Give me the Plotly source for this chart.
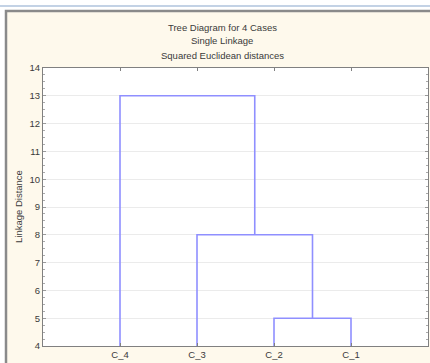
import plotly.graph_objects as go

# ---- data ----
cases = ["C_4", "C_3", "C_2", "C_1"]
merge_pairs = [("C_2", "C_1"), ("C_3", "M1"), ("C_4", "M2")]
merge_names = ["M1", "M2", "M3"]
merge_heights = [5, 8, 13]
y_ticks = [4, 5, 6, 7, 8, 9, 10, 11, 12, 13, 14]
title_lines = ["Tree Diagram for 4 Cases", "Single Linkage", "Squared Euclidean distances"]

W, H = 430, 363
L, R, T, B = 43, 2, 68, 17
PW, PH = W - L - R, H - T - B

def px_x(p):
    return (p - L) / PW

def px_y(p):
    return (H - B - p) / PH

# node positions
nodes = {c: (i + 1, 0) for i, c in enumerate(cases)}
xs, ys = [], []
for (a, b), name, h in zip(merge_pairs, merge_names, merge_heights):
    xa, ha = nodes[a]
    xb, hb = nodes[b]
    xs += [xa, xa, xb, xb, None]
    ys += [ha, h, h, hb, None]
    nodes[name] = ((xa + xb) / 2, h)

line_col = "#8F8FFF"
fig = go.Figure()
fig.add_trace(go.Scatter(x=xs, y=ys, mode="lines",
                         line=dict(color=line_col, width=1.6),
                         hoverinfo="skip", showlegend=False))

font = "Liberation Sans, Arial, sans-serif"
txt_col = "#3a3a3a"

shapes = [
    # thin blue line at top
    dict(type="line", xref="paper", yref="paper", x0=px_x(0), x1=px_x(W + 2),
         y0=px_y(6), y1=px_y(6), line=dict(color="#AFC3DC", width=1.5), layer="below"),
    # beige panel
    dict(type="rect", xref="paper", yref="paper", x0=px_x(6), x1=px_x(W + 3),
         y0=px_y(H + 3), y1=px_y(11), fillcolor="#FEF9EC",
         line=dict(color="#8A8A8A", width=2.5), layer="below"),
    # white plot area
    dict(type="rect", xref="paper", yref="paper", x0=0, x1=1, y0=0, y1=1,
         fillcolor="white", line=dict(width=0), layer="below"),
]

annotations = []
for i, t in enumerate(title_lines):
    annotations.append(dict(text=t, xref="paper", yref="paper", x=px_x(222),
                            y=px_y(27 + 14 * i), xanchor="center", yanchor="middle",
                            showarrow=False, font=dict(family=font, size=9.5, color=txt_col)))
annotations.append(dict(text="Linkage Distance", xref="paper", yref="paper",
                        x=px_x(18), y=0.5, textangle=-90, xanchor="center",
                        yanchor="middle", showarrow=False,
                        font=dict(family=font, size=9.5, color=txt_col)))

fig.update_layout(
    width=W, height=H, autosize=False,
    margin=dict(l=L, r=R, t=T, b=B),
    paper_bgcolor="white", plot_bgcolor="white",
    shapes=shapes, annotations=annotations,
    xaxis=dict(range=[0, 5], tickvals=[1, 2, 3, 4], ticktext=cases,
               showgrid=False, zeroline=False, showline=True, linecolor="#808080",
               linewidth=1, mirror="ticks", ticks="inside", ticklen=3,
               tickcolor="#808080", tickfont=dict(family=font, size=9.5, color=txt_col),
               fixedrange=True),
    yaxis=dict(range=[4, 14], tickvals=y_ticks, showgrid=True, gridcolor="#EBEBEB",
               gridwidth=1, zeroline=False, showline=True, linecolor="#808080",
               linewidth=1, mirror="ticks", ticks="inside", ticklen=3,
               tickcolor="#999999",
               minor=dict(dtick=0.25, ticks="inside", ticklen=2, tickcolor="#AAAAAA", showgrid=False),
               tickfont=dict(family=font, size=9.5, color=txt_col), fixedrange=True),
)

fig.write_html("out.html", config={"displayModeBar": False},
               post_script="document.body.style.margin='0';document.body.style.overflow='hidden';")
